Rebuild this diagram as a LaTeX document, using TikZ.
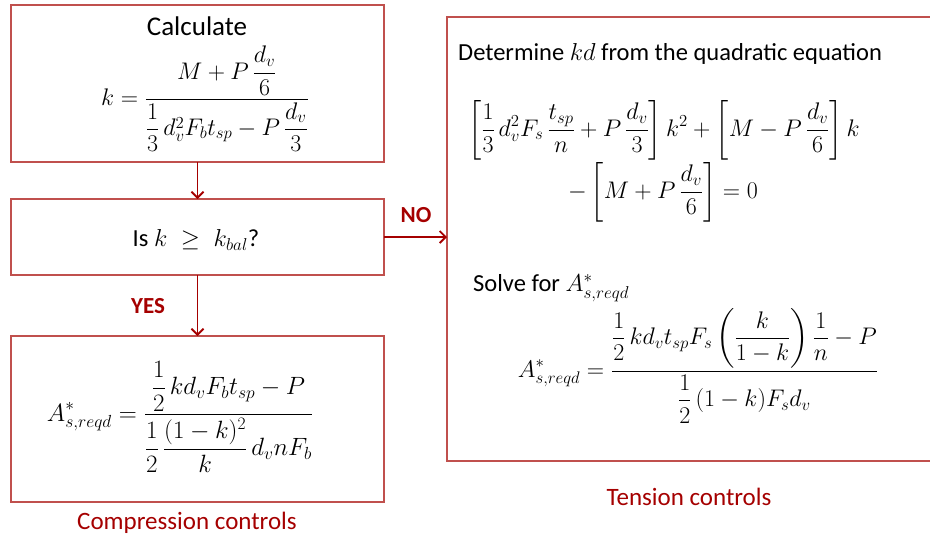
\documentclass[tikz,border=0pt]{standalone}
\usepackage{fix-cm}
\usepackage{amsmath}
\usepackage{fontspec}
\setmainfont{Carlito}
\usetikzlibrary{arrows.meta}
\definecolor{boxred}{RGB}{192,80,77}
\definecolor{darkred}{RGB}{165,0,0}
\tikzset{
  box/.style={draw=boxred, line width=2.5pt},
  conn/.style={draw=darkred, line width=1.8pt, -{Straight Barb[length=6pt,width=12pt,line width=1.8pt]}},
  lbl/.style={text=darkred, font=\fontsize{23}{26}\selectfont\bfseries, inner sep=0pt},
  captext/.style={text=darkred, font=\fontsize{25}{29}\selectfont, inner sep=0pt},
  txt/.style={font=\fontsize{24.5}{28}\selectfont, inner sep=0pt},
  eq/.style={font=\fontsize{24}{28}\selectfont, inner sep=0pt},
}
\begin{document}
\begin{tikzpicture}[x=1pt,y=-1pt]
\useasboundingbox (0,0) rectangle (930,539);
\clip (0,0) rectangle (930,539);
% boxes
\draw[box] (11,5) rectangle (384,162);
\draw[box] (11,199) rectangle (384,275);
\draw[box] (11,336) rectangle (384,502);
\draw[box] (447,17) rectangle (960,461);
\coordinate (b1s) at (197.5,162);
\coordinate (b2n) at (197.5,199);
\coordinate (b2s) at (197.5,275);
\coordinate (b3n) at (197.5,336);
\coordinate (b2e) at (384,237);
\coordinate (rw) at (447,237);
% box 1 content
\node[txt, font=\fontsize{27}{30}\selectfont] (calc) at (197,26) {Calculate};
\node[eq] (keq) at (205,99) {$\displaystyle k=\frac{M+P\,\dfrac{d_v}{6}}{\dfrac{1}{3}\,d_v^2F_bt_{sp}-P\,\dfrac{d_v}{3}}$};
% box 2
\node[txt] (isk) at (196,240) {Is $k\;\geq\;k_{bal}$?};
% box 3
\node[eq, font=\fontsize{25}{29}\selectfont] (comp) at (180,417) {$\displaystyle A^*_{s,reqd}=\frac{\dfrac{1}{2}\,kd_vF_bt_{sp}-P}{\dfrac{1}{2}\,\dfrac{(1-k)^2}{k}\,d_vnF_b}$};
% right box
\node[txt, anchor=west] (det) at (458,54) {Determine $kd$ from the quadratic equation};
\node[eq, anchor=west] (q1) at (468,130) {$\displaystyle \left[\frac{1}{3}\,d_v^2F_s\,\frac{t_{sp}}{n}+P\,\frac{d_v}{3}\right]k^2+\left[M-P\,\frac{d_v}{6}\right]k$};
\node[eq] (q2) at (663,192) {$\displaystyle -\left[M+P\,\frac{d_v}{6}\right]=0$};
\node[txt, anchor=west] (solve) at (473,288) {Solve for $A^*_{s,reqd}$};
\node[eq] (ten) at (698,366) {$\displaystyle A^*_{s,reqd}=\frac{\dfrac{1}{2}\,kd_vt_{sp}F_s\left(\dfrac{k}{1-k}\right)\dfrac{1}{n}-P}{\dfrac{1}{2}\,(1-k)F_sd_v}$};
% connectors
\draw[conn] (b1s) -- (b2n);
\draw[conn] (b2s) -- (b3n);
\draw[conn] (b2e) -- (rw);
\node[lbl] (yes) at (148,306) {YES};
\node[lbl] (no) at (416,215) {NO};
\node[captext] (compc) at (187,523) {Compression controls};
\node[captext] (tenc) at (689,497) {Tension controls};
\end{tikzpicture}
\end{document}
